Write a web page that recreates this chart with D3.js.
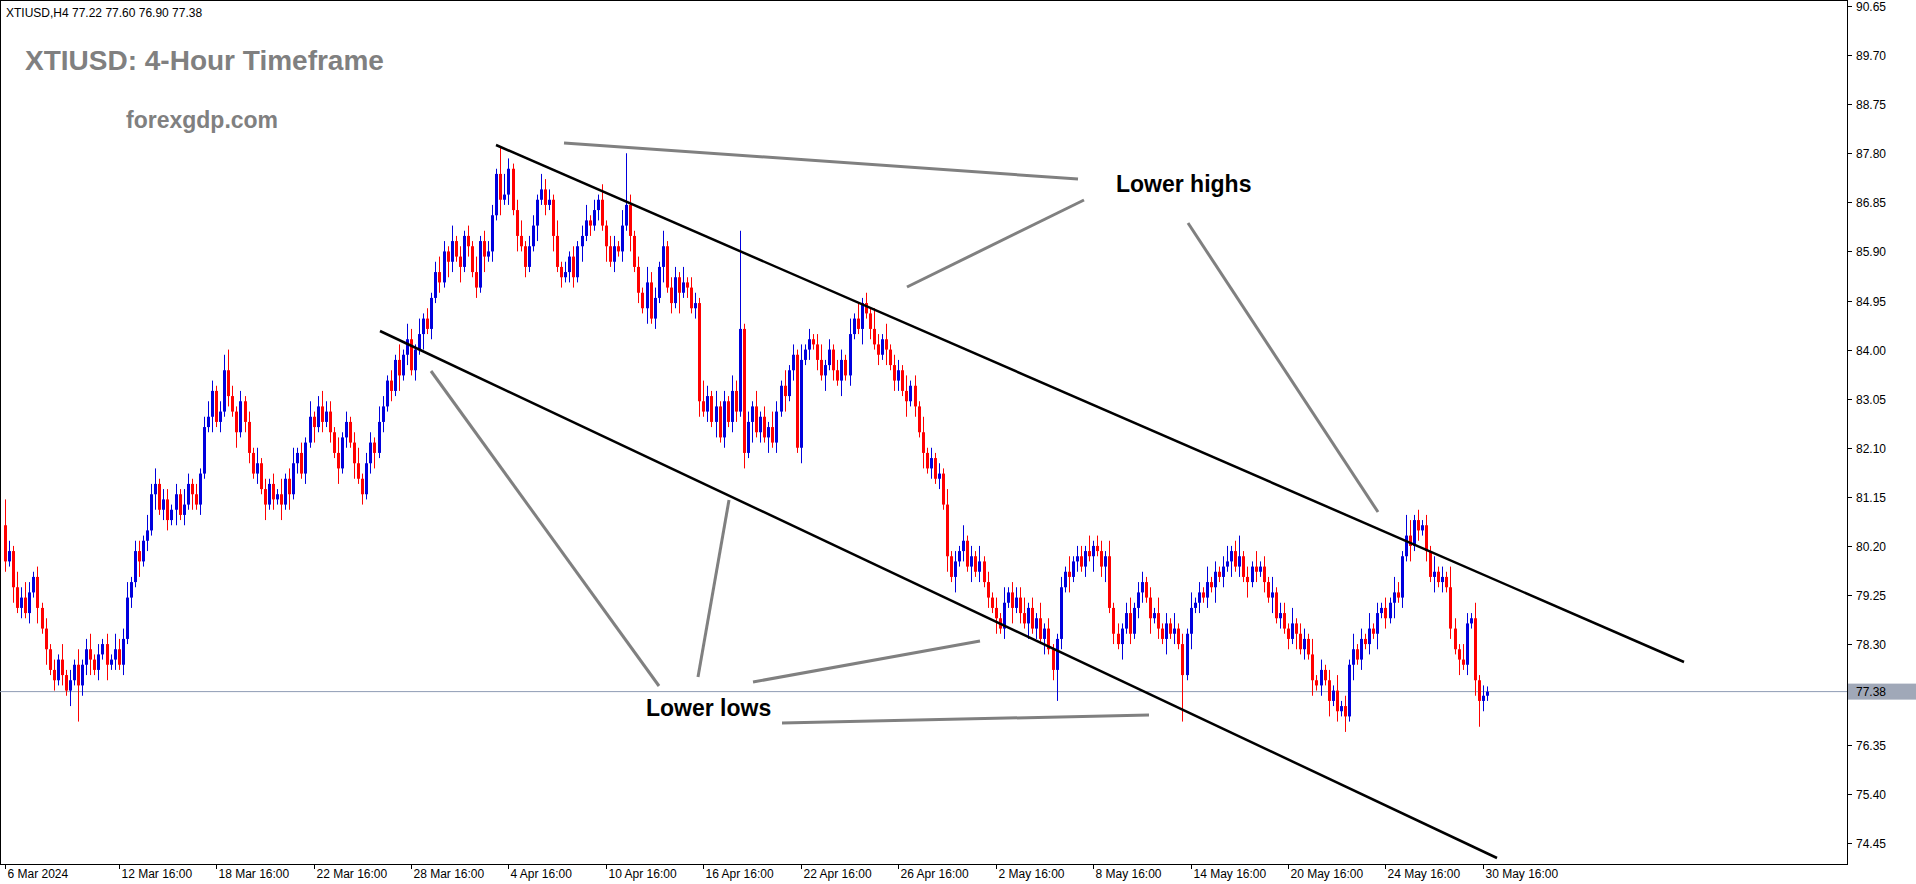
<!DOCTYPE html>
<html><head><meta charset="utf-8">
<script src="https://cdn.jsdelivr.net/npm/d3@7"></script>
<style>body{margin:0;background:#fff}svg{display:block;font-family:"Liberation Sans",Arial,sans-serif}</style>
</head><body><svg id="c" width="1916" height="884"></svg>
<script>
const closes=[79.9,80.1,79.4,79.0,79.2,78.9,79.3,79.6,79.0,
78.6,78.2,77.8,77.6,78.0,77.7,77.4,77.6,77.9,77.5,
77.9,78.2,78.0,77.8,78.1,78.3,77.9,78.0,78.2,77.9,
78.4,79.2,79.5,80.1,79.9,80.3,80.5,81.2,81.4,80.9,
81.1,80.7,80.9,81.2,80.8,81.0,81.4,81.2,81.0,81.6,
82.5,82.7,83.2,82.6,82.8,83.6,83.1,82.8,82.4,83.0,
82.6,82.0,81.6,81.8,81.3,81.0,81.4,81.1,81.2,81.0,
81.5,81.2,81.8,82.0,81.6,82.2,82.7,82.5,82.9,82.6,
82.8,82.4,82.0,81.7,82.3,82.6,82.2,81.8,81.5,81.2,
81.8,82.2,82.0,82.6,82.9,83.4,83.2,83.8,83.5,83.9,
84.2,83.6,84.0,84.3,84.6,84.4,85.0,85.5,85.3,85.9,
85.7,86.1,85.8,85.6,86.2,86.0,85.5,85.2,86.1,85.8,
85.9,86.6,87.4,86.9,87.0,87.5,86.7,86.2,86.0,85.6,
86.0,86.4,86.9,87.1,86.8,86.9,86.2,85.6,85.4,85.5,
85.8,85.4,86.0,86.2,86.5,86.4,86.7,86.9,86.4,86.0,
85.7,86.0,85.9,86.4,86.8,86.2,85.6,85.1,84.8,85.3,
84.6,85.0,85.6,86.0,85.2,84.9,85.4,85.1,85.3,85.2,
84.8,84.9,83.0,82.8,83.1,82.6,82.9,82.3,83.0,82.6,
83.2,82.8,84.4,82.0,82.6,82.9,82.4,82.7,82.3,82.5,
82.2,82.8,83.3,83.1,83.6,83.9,82.1,83.8,84.0,84.2,
84.1,83.8,83.5,83.7,84.0,83.6,83.4,83.8,83.5,84.3,
84.6,84.4,84.9,84.7,84.4,84.1,83.9,84.2,84.0,83.7,
83.4,83.6,83.2,83.0,83.3,82.9,82.4,82.0,81.7,81.9,
81.5,81.6,81.0,80.0,79.6,79.9,80.1,80.3,79.8,80.0,
79.7,79.9,79.5,79.2,79.0,78.8,78.6,79.1,79.3,79.0,
79.2,78.9,78.7,79.0,78.6,78.8,78.4,78.6,78.2,77.8,
78.4,79.4,79.7,79.6,79.9,80.0,79.8,80.1,80.0,80.2,
80.1,79.8,80.0,79.0,78.5,78.3,78.6,78.9,78.5,79.0,
79.3,79.5,79.2,78.8,78.9,78.6,78.4,78.7,78.5,78.6,
78.3,77.7,78.5,79.0,79.1,79.3,79.2,79.5,79.4,79.7,
79.6,79.8,79.9,80.1,79.8,80.0,79.6,79.5,79.8,79.7,
79.8,79.5,79.2,79.3,78.8,78.9,78.6,78.4,78.7,78.5,
78.2,78.4,78.1,77.6,77.5,77.8,77.6,77.2,77.4,77.0,
77.1,76.9,77.9,78.2,78.0,78.4,78.3,78.6,78.5,78.9,
79.0,78.8,79.1,79.3,79.2,80.0,80.4,80.2,80.7,80.5,
80.6,80.1,79.6,79.7,79.5,79.6,79.4,78.6,78.2,78.0,
77.9,78.7,78.8,77.6,77.2,77.3,77.38];
const firstOpen=80.6;
// wick sizes in tenths (base-36 digits)
const wickUp="5213232121"+"2121312131"+"2312121322"+"3122132312"+"2121321212"+"3212342121"+"2131212131"+"2312131232"+"2131212312"+"2132121313"+"2131212321"+"3121213122"+"2154212312"+"2132213121"+"2123121312"+"213a212132"+"2131221312"+"2142131213"+"2j12131213"+"2131213121"+"2312122131"+"3121421312"+"2131213121"+"2131213121"+"3121213122"+"2312131211"+"2131221312"+"2131212312"+"2121312131"+"2131213121"+"2312412131"+"2131221312"+"2131212131"+"2131213121"+"2132143121"+"2131214213"+"213121";
const wickDn="2131212131"+"3121213172"+"2312131212"+"1213121312"+"2131213121"+"1312121312"+"2121312131"+"3121213121"+"2131213121"+"2312121312"+"1213121213"+"2131212131"+"2131213121"+"1312131212"+"2131212131"+"2121312131"+"2131214121"+"2312131212"+"2131412131"+"2131213121"+"2131213121"+"1312121312"+"2131213121"+"2131312131"+"2121312131"+"2131213126"+"2131212131"+"2312131212"+"2131213121"+"9131212131"+"2131213121"+"2131212131"+"2131213121"+"3131212131"+"2131213121"+"2131212131"+"213521";
const priceTicks=["90.65","89.70","88.75","87.80","86.85","85.90","84.95","84.00","83.05","82.10","81.15","80.20","79.25","78.30","77.35","76.35","75.40","74.45"];
const dateLabels=["6 Mar 2024","12 Mar 16:00","18 Mar 16:00","22 Mar 16:00","28 Mar 16:00","4 Apr 16:00","10 Apr 16:00","16 Apr 16:00","22 Apr 16:00","26 Apr 16:00","2 May 16:00","8 May 16:00","14 May 16:00","20 May 16:00","24 May 16:00","30 May 16:00"];
const dateIdx=[0,28,52,76,100,124,148,172,196,220,244,268,292,316,340,364];
const lastPrice=77.38;

const svg=d3.select("#c");
const W=1847,H=864;
const x=d3.scaleLinear().domain([0,365]).range([5,1487]);
const y=d3.scaleLinear().domain([74.45,90.65]).range([843,6]);
const N=closes.length;
const candles=closes.map((c,i)=>{const o=i?closes[i-1]:firstOpen;
 const u=parseInt(wickUp[i]||"1",36)/10,d=parseInt(wickDn[i]||"1",36)/10;
 return {i,o,c,h:Math.max(o,c)+u,l:Math.min(o,c)-d};});

// frame
svg.append("rect").attr("x",0.5).attr("y",0.5).attr("width",W).attr("height",H).attr("fill","none").attr("stroke","#000");
// price axis
priceTicks.forEach(t=>{const yy=Math.round(y(+t))+0.5;
 svg.append("line").attr("x1",W).attr("x2",W+5).attr("y1",yy).attr("y2",yy).attr("stroke","#000");
 svg.append("text").attr("x",W+9).attr("y",yy+4).attr("font-size",12).text(t);});
dateIdx.forEach((k,j)=>{const xx=Math.round(x(k))+0.5;
 svg.append("line").attr("x1",xx).attr("x2",xx).attr("y1",H).attr("y2",H+5).attr("stroke","#000");
 svg.append("text").attr("x",xx+2).attr("y",H+14).attr("font-size",12).text(dateLabels[j]);});
// last price line
svg.append("line").attr("x1",0).attr("x2",W).attr("y1",y(lastPrice)).attr("y2",y(lastPrice)).attr("stroke","#8e9cb4");
svg.append("rect").attr("x",W+1).attr("y",y(lastPrice)-8).attr("width",68).attr("height",16).attr("fill","#a0a8b8");
svg.append("text").attr("x",W+9).attr("y",y(lastPrice)+4).attr("font-size",12).text(lastPrice.toFixed(2));

// candles
const g=svg.append("g");
candles.forEach(d=>{const cx=Math.round(x(d.i))+0.5;
 const col=d.c>d.o?"#0000dd":d.c<d.o?"#ff0000":"#000";
 g.append("line").attr("x1",cx).attr("x2",cx).attr("y1",y(d.h)).attr("y2",y(d.l)).attr("stroke",col);
 const t=y(Math.max(d.o,d.c)),b=y(Math.min(d.o,d.c));
 g.append("rect").attr("x",cx-1.5).attr("y",t).attr("width",3).attr("height",Math.max(1,b-t)).attr("fill",col);});

// channel & annotation lines (screen-space drawings)
const chan=[[496,145,1684,662],[380,331,1497,858]];
chan.forEach(l=>svg.append("line").attr("x1",l[0]).attr("y1",l[1]).attr("x2",l[2]).attr("y2",l[3]).attr("stroke","#000").attr("stroke-width",2.5));
const arrows=[[564,143,1078,179],[907,287,1084,200],[1188,223,1378,512],[431,371,659,686],[729,500,698,677],[753,682,980,641],[782,723,1149,715]];
arrows.forEach(l=>svg.append("line").attr("x1",l[0]).attr("y1",l[1]).attr("x2",l[2]).attr("y2",l[3]).attr("stroke","#808080").attr("stroke-width",3));
svg.append("text").attr("x",1116).attr("y",192).attr("font-size",23).attr("font-weight","bold").text("Lower highs");
svg.append("text").attr("x",646).attr("y",716).attr("font-size",23).attr("font-weight","bold").text("Lower lows");
svg.append("text").attr("x",25).attr("y",70).attr("font-size",28).attr("font-weight","bold").attr("fill","#808080").text("XTIUSD: 4-Hour Timeframe");
svg.append("text").attr("x",126).attr("y",128).attr("font-size",23).attr("font-weight","bold").attr("fill","#808080").text("forexgdp.com");
svg.append("text").attr("x",6).attr("y",17).attr("font-size",12).text("XTIUSD,H4  77.22 77.60 76.90 77.38");
</script></body></html>
